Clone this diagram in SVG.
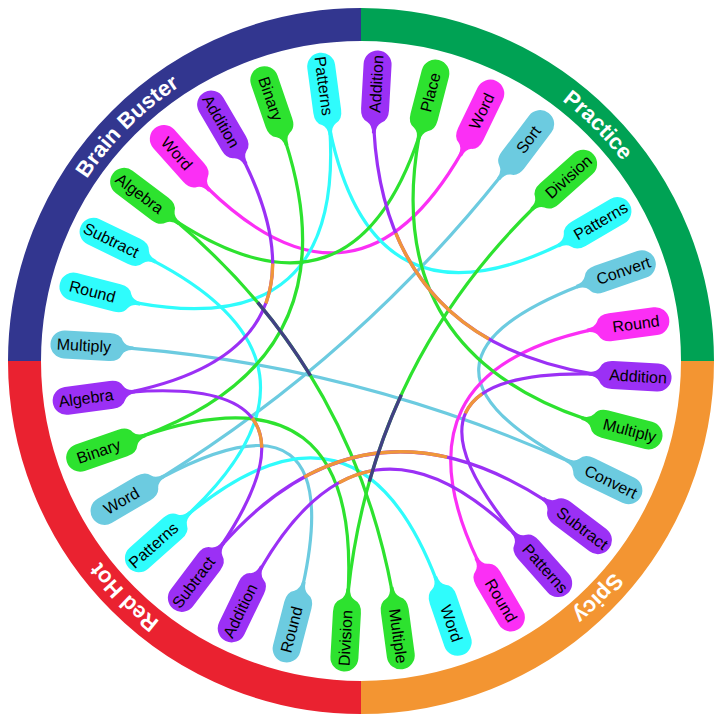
<svg xmlns="http://www.w3.org/2000/svg" xmlns:xlink="http://www.w3.org/1999/xlink" width="723" height="722" viewBox="0 0 723 722">
<style>
.ring{fill:none;stroke-width:33}
.rl{font-family:"Liberation Sans",Arial,sans-serif;font-size:22px;font-weight:bold;fill:#fff;text-anchor:middle}
.c{fill:none;stroke-width:3.2;stroke-linecap:round}
.s{fill:none;stroke-width:3.4;stroke-linecap:butt}
.pu{stroke:#9b30f5}.gr{stroke:#2de22f}.lb{stroke:#6ccbe0}.cy{stroke:#2ffcfc}.mg{stroke:#fb2ff5}
.or{stroke:#f0963a}.nv{stroke:#414183}
.fpu{fill:#9b30f5}.fgr{fill:#2de22f}.flb{fill:#6ccbe0}.fcy{fill:#2ffcfc}.fmg{fill:#fb2ff5}
.t{font-family:"Liberation Sans",Arial,sans-serif;font-size:16px;fill:#000;text-anchor:middle;dominant-baseline:central}
</style>
<defs>
<path id="pin" d="M297,-14 A14,14 0 0 1 297,14 L252,14 Q242,14 239,7 Q236,1.8 228,1.8 L228,-1.8 Q236,-1.8 239,-7 Q242,-14 252,-14 Z"/>
<path id="lblpath" d="M690,361 A329,329 0 1 1 32,361 A329,329 0 1 1 690,361"/>
</defs>
<rect width="723" height="722" fill="#fff"/>
<g id="ring">
<path class="ring" stroke="#32368f" d="M24.5,361 A336.5,336.5 0 0 1 361,24.5"/>
<path class="ring" stroke="#00a254" d="M361,24.5 A336.5,336.5 0 0 1 697.5,361"/>
<path class="ring" stroke="#f39532" d="M697.5,361 A336.5,336.5 0 0 1 361,697.5"/>
<path class="ring" stroke="#ea2230" d="M361,697.5 A336.5,336.5 0 0 1 24.5,361"/>
<text class="rl"><textPath href="#lblpath" startOffset="258.4">Spicy</textPath></text>
<text class="rl"><textPath href="#lblpath" startOffset="775.2">Red Hot</textPath></text>
<text class="rl"><textPath href="#lblpath" startOffset="1292">Brain Buster</textPath></text>
<text class="rl"><textPath href="#lblpath" startOffset="1808.8">Practice</textPath></text>
</g>
<g id="connectors">
<path class="c lb" stroke-width="4" d="M569.9,461.9 Q359.4,367.2 129.4,348.1"/>
<path class="c lb" d="M569.9,461.9 Q382.4,362.3 580.4,285.5"/>
<path class="c lb" d="M302.9,585.6 Q348.1,378.1 160.7,478.0"/>
<path class="c lb" stroke-width="2.6" d="M160.7,478.0 Q356.8,356.2 500.9,176.0"/>
<path class="c mg" d="M207.0,187.5 Q357.3,334.2 461.9,152.1"/>
<path class="c mg" d="M478.0,561.3 Q388.8,374.5 591.1,329.9"/>
<path class="c cy" d="M136.4,302.9 Q343.1,340.8 329.9,129.9"/>
<path class="c cy" d="M329.9,129.9 Q372.8,336.6 561.3,244.0"/>
<path class="c cy" d="M187.5,515.0 Q349.5,362.6 152.1,260.1"/>
<path class="c cy" d="M436.5,580.4 Q357.6,374.1 187.5,515.0"/>
<path class="c gr" d="M585.6,419.1 Q380.8,349.3 419.1,136.4"/>
<path class="c gr" d="M176.0,221.1 Q352.1,335.5 419.1,136.4"/>
<path class="c gr" d="M176.0,221.1 Q350.2,367.3 392.1,591.1"/>
<path class="c gr" d="M348.1,592.6 Q361,361 141.6,436.5"/>
<path class="c gr" d="M534.5,207.0 Q372.2,366.4 348.1,592.6"/>
<path class="c gr" d="M141.6,436.5 Q355.1,358.1 285.5,141.6"/>
<path class="c pu" d="M373.9,129.4 Q385.5,339.1 592.6,373.9"/>
<path class="c pu" d="M592.6,373.9 Q378.4,369.4 515.0,534.5"/>
<path class="c pu" d="M221.1,546.0 Q364.2,383.7 546.0,500.9"/>
<path class="c pu" d="M260.1,569.9 Q364.7,387.8 515.0,534.5"/>
<path class="c pu" d="M129.9,392.1 Q335.0,376.1 221.1,546.0"/>
<path class="c pu" d="M244.0,160.7 Q336.6,349.2 129.9,392.1"/>
<path class="s or" d="M272.7,263.6 Q272.6,285.1 265.9,303.4"/>
<path class="s or" d="M395.7,233.1 Q424.3,302.2 488.8,339.0"/>
<path class="s or" d="M482.1,393.8 Q470.3,402.0 465.4,413.4"/>
<path class="s or" d="M252.2,418.1 Q261.6,430.2 261.8,447.7"/>
<path class="s or" d="M304.2,477.0 Q372.0,440.1 447.1,457.2"/>
<path class="s or" d="M338.9,482.7 Q354.6,474.0 371.1,470.8"/>
<path class="s nv" stroke-width="3" d="M257.7,302.4 Q287.0,337.3 310.5,375.7"/>
<path class="s nv" stroke-width="3" d="M401.3,394.7 Q382.1,436.6 369.3,481.6"/>
</g>
<g id="nodes">
<g id="sp-addition" transform="translate(361 361) rotate(3.2)"><use href="#pin" class="fpu"/><text class="t" x="277.5" y="0">Addition</text></g>
<g id="sp-multiply" transform="translate(361 361) rotate(14.5)"><use href="#pin" class="fgr"/><text class="t" x="277.5" y="0">Multiply</text></g>
<g id="sp-convert" transform="translate(361 361) rotate(25.8)"><use href="#pin" class="flb"/><text class="t" x="277.5" y="0">Convert</text></g>
<g id="sp-subtract" transform="translate(361 361) rotate(37.1)"><use href="#pin" class="fpu"/><text class="t" x="277.5" y="0">Subtract</text></g>
<g id="sp-patterns" transform="translate(361 361) rotate(48.4)"><use href="#pin" class="fpu"/><text class="t" x="277.5" y="0">Patterns</text></g>
<g id="sp-round" transform="translate(361 361) rotate(59.7)"><use href="#pin" class="fmg"/><text class="t" x="277.5" y="0">Round</text></g>
<g id="sp-word" transform="translate(361 361) rotate(71.0)"><use href="#pin" class="fcy"/><text class="t" x="277.5" y="0">Word</text></g>
<g id="sp-multiple" transform="translate(361 361) rotate(82.3)"><use href="#pin" class="fgr"/><text class="t" x="277.5" y="0">Multiple</text></g>
<g id="rh-division" transform="translate(361 361) rotate(93.2)"><use href="#pin" class="fgr"/><text class="t" x="277.5" y="0" transform="rotate(180 277.5 0)">Division</text></g>
<g id="rh-round" transform="translate(361 361) rotate(104.5)"><use href="#pin" class="flb"/><text class="t" x="277.5" y="0" transform="rotate(180 277.5 0)">Round</text></g>
<g id="rh-addition" transform="translate(361 361) rotate(115.8)"><use href="#pin" class="fpu"/><text class="t" x="277.5" y="0" transform="rotate(180 277.5 0)">Addition</text></g>
<g id="rh-subtract" transform="translate(361 361) rotate(127.1)"><use href="#pin" class="fpu"/><text class="t" x="277.5" y="0" transform="rotate(180 277.5 0)">Subtract</text></g>
<g id="rh-patterns" transform="translate(361 361) rotate(138.4)"><use href="#pin" class="fcy"/><text class="t" x="277.5" y="0" transform="rotate(180 277.5 0)">Patterns</text></g>
<g id="rh-word" transform="translate(361 361) rotate(149.7)"><use href="#pin" class="flb"/><text class="t" x="277.5" y="0" transform="rotate(180 277.5 0)">Word</text></g>
<g id="rh-binary" transform="translate(361 361) rotate(161.0)"><use href="#pin" class="fgr"/><text class="t" x="277.5" y="0" transform="rotate(180 277.5 0)">Binary</text></g>
<g id="rh-algebra" transform="translate(361 361) rotate(172.3)"><use href="#pin" class="fpu"/><text class="t" x="277.5" y="0" transform="rotate(180 277.5 0)">Algebra</text></g>
<g id="bb-multiply" transform="translate(361 361) rotate(183.2)"><use href="#pin" class="flb"/><text class="t" x="277.5" y="0" transform="rotate(180 277.5 0)">Multiply</text></g>
<g id="bb-round" transform="translate(361 361) rotate(194.5)"><use href="#pin" class="fcy"/><text class="t" x="277.5" y="0" transform="rotate(180 277.5 0)">Round</text></g>
<g id="bb-subtract" transform="translate(361 361) rotate(205.8)"><use href="#pin" class="fcy"/><text class="t" x="277.5" y="0" transform="rotate(180 277.5 0)">Subtract</text></g>
<g id="bb-algebra" transform="translate(361 361) rotate(217.1)"><use href="#pin" class="fgr"/><text class="t" x="277.5" y="0" transform="rotate(180 277.5 0)">Algebra</text></g>
<g id="bb-word" transform="translate(361 361) rotate(228.4)"><use href="#pin" class="fmg"/><text class="t" x="277.5" y="0" transform="rotate(180 277.5 0)">Word</text></g>
<g id="bb-addition" transform="translate(361 361) rotate(239.7)"><use href="#pin" class="fpu"/><text class="t" x="277.5" y="0" transform="rotate(180 277.5 0)">Addition</text></g>
<g id="bb-binary" transform="translate(361 361) rotate(251.0)"><use href="#pin" class="fgr"/><text class="t" x="277.5" y="0" transform="rotate(180 277.5 0)">Binary</text></g>
<g id="bb-patterns" transform="translate(361 361) rotate(262.3)"><use href="#pin" class="fcy"/><text class="t" x="277.5" y="0" transform="rotate(180 277.5 0)">Patterns</text></g>
<g id="pr-addition" transform="translate(361 361) rotate(273.2)"><use href="#pin" class="fpu"/><text class="t" x="277.5" y="0">Addition</text></g>
<g id="pr-place" transform="translate(361 361) rotate(284.5)"><use href="#pin" class="fgr"/><text class="t" x="277.5" y="0">Place</text></g>
<g id="pr-word" transform="translate(361 361) rotate(295.8)"><use href="#pin" class="fmg"/><text class="t" x="277.5" y="0">Word</text></g>
<g id="pr-sort" transform="translate(361 361) rotate(307.1)"><use href="#pin" class="flb"/><text class="t" x="277.5" y="0">Sort</text></g>
<g id="pr-division" transform="translate(361 361) rotate(318.4)"><use href="#pin" class="fgr"/><text class="t" x="277.5" y="0">Division</text></g>
<g id="pr-patterns" transform="translate(361 361) rotate(329.7)"><use href="#pin" class="fcy"/><text class="t" x="277.5" y="0">Patterns</text></g>
<g id="pr-convert" transform="translate(361 361) rotate(341.0)"><use href="#pin" class="flb"/><text class="t" x="277.5" y="0">Convert</text></g>
<g id="pr-round" transform="translate(361 361) rotate(352.3)"><use href="#pin" class="fmg"/><text class="t" x="277.5" y="0">Round</text></g>
</g>
</svg>
